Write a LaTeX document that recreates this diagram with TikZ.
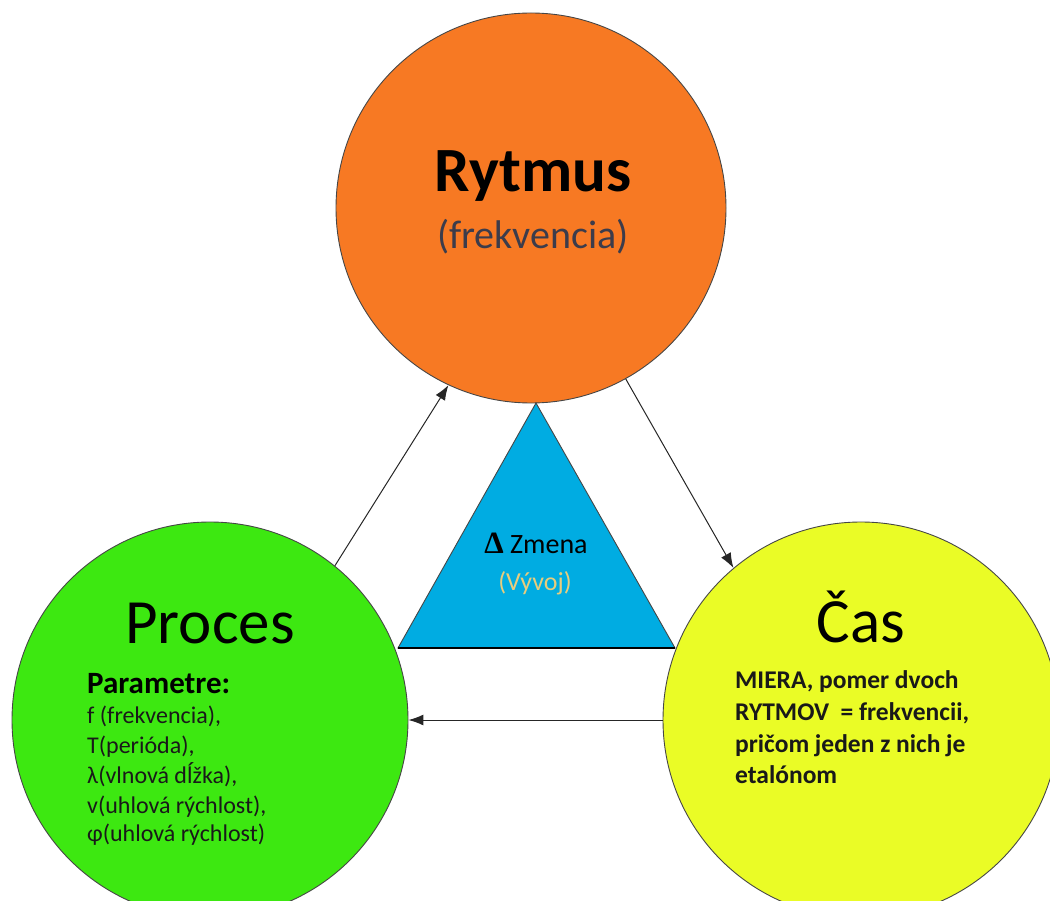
\documentclass[tikz,border=0pt]{standalone}
\usepackage{fontspec}
\setmainfont{Carlito}
\newfontfamily\deltafont{Liberation Serif}
\usetikzlibrary{arrows.meta}
\definecolor{corange}{RGB}{247,121,35}
\definecolor{cgreen}{RGB}{61,232,17}
\definecolor{cyellow}{RGB}{234,252,38}
\definecolor{cblue}{RGB}{0,172,226}
\definecolor{cedge}{RGB}{70,70,70}
\definecolor{csub}{RGB}{60,60,75}
\definecolor{cvyvoj}{RGB}{232,205,125}
\tikzset{
  ball/.style={circle, draw=cedge, line width=0.9pt, inner sep=0pt},
  conn/.style={draw=black!85, line width=1pt, -{Latex[length=15pt,width=11pt]}},
  title/.style={font=\fontsize{63}{70}\selectfont, anchor=base, inner sep=0pt},
  pline/.style={font=\fontsize{24}{28}\selectfont, anchor=base west, inner sep=0pt, text=black!90},
  yline/.style={font=\bfseries\fontsize{25.5}{28}\selectfont, anchor=base west, inner sep=0pt, text=black!90},
}
\begin{document}
\begin{tikzpicture}[x=1pt,y=-1pt]
\useasboundingbox (0,0) rectangle (1050,901);
% circles
\node[ball, fill=corange, minimum size=390pt] (rytmus) at (531,208) {};
\node[ball, fill=cgreen, minimum size=396pt] (proces) at (210,720) {};
\node[ball, fill=cyellow, minimum size=396pt] (cas) at (861,720) {};
% triangle
\coordinate (tA) at (536,403);
\coordinate (tL) at (398,648);
\coordinate (tR) at (675,648);
\draw[fill=cblue, draw=cedge, line width=0.9pt] (tA) -- (tR) -- (tL) -- cycle;
\draw[black, line width=1.2pt] (tL) -- (tR);
% connectors
\draw[conn] (proces.51.5) -- (rytmus.-115.6);
\draw[conn] (rytmus.-61.3) -- (cas.130.2);
\draw[conn] (cas.180) -- (proces.0);
% texts
\node[title, font=\bfseries\fontsize{63}{70}\selectfont] (t1) at (533,192) {Rytmus};
\node[font=\fontsize{40}{46}\selectfont, anchor=base, inner sep=0pt, text=csub] (t1b) at (533,249) {(frekvencia)};
\node[title] (t2) at (210,643) {Proces};
\node[title] (t3) at (861,642) {Čas};
\node[font=\bfseries\fontsize{31}{34}\selectfont, anchor=base west, inner sep=0pt] (p0) at (87,693) {Parametre:};
\node[pline] (p1) at (87,723) {f (frekvencia),};
\node[pline] (p2) at (87,753) {T(perióda),};
\node[pline] (p3) at (87,783) {λ(vlnová dĺžka),};
\node[pline] (p4) at (87,813) {v(uhlová rýchlost),};
\node[pline] (p5) at (87,841) {φ(uhlová rýchlost)};
\node[yline] (y1) at (735,688) {MIERA, pomer dvoch};
\node[yline] (y2) at (735,720) {RYTMOV \ = frekvencii,};
\node[yline] (y3) at (735,752) {pričom jeden z nich je};
\node[yline] (y4) at (735,783) {etalónom};
\node[font=\fontsize{28}{32}\selectfont, anchor=base, inner sep=0pt] (z1) at (536,553) {{\deltafont\bfseries\fontsize{31}{32}\selectfont Δ} Zmena};
\node[font=\fontsize{26}{30}\selectfont, anchor=base, inner sep=0pt, text=cvyvoj] (z2) at (535,590) {(Vývoj)};
\end{tikzpicture}
\end{document}
